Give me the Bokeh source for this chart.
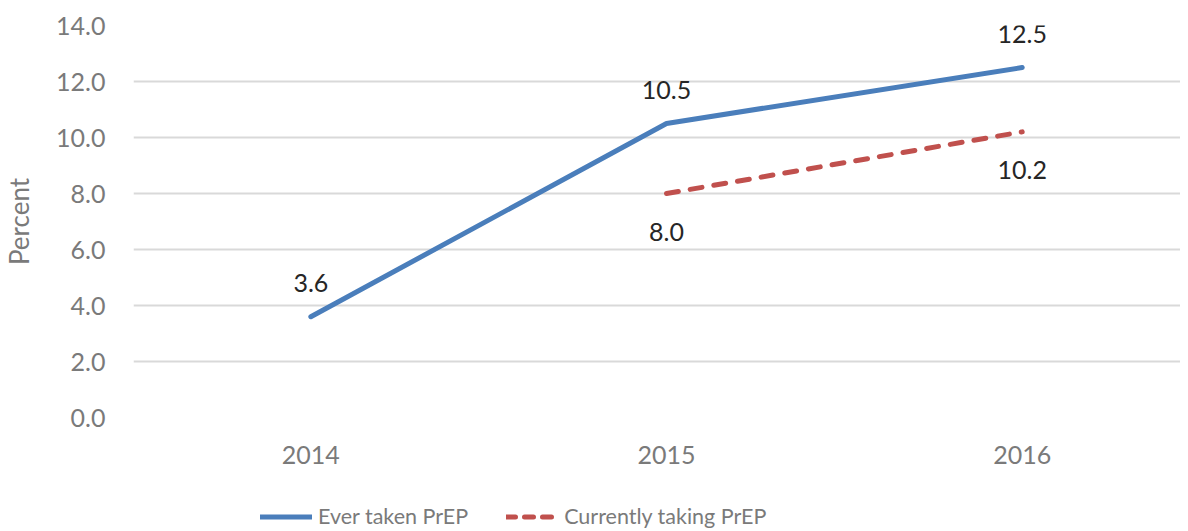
from bokeh.plotting import figure
from bokeh.layouts import column
from bokeh.models import ColumnDataSource, FixedTicker, Legend, LegendItem, Range1d, NumeralTickFormatter
from bokeh.core.properties import value
from bokeh.embed import file_html
from bokeh.resources import INLINE

# ---- data ----
years = ["2014", "2015", "2016"]
ever_taken = [3.6, 10.5, 12.5]
current_years = ["2015", "2016"]
currently_taking = [8.0, 10.2]
y_ticks = [0, 2, 4, 6, 8, 10, 12, 14]
series_names = ["Ever taken PrEP", "Currently taking PrEP"]

FONT = "Lato"
GREY = "#7a7a7a"
BLUE = "#4a7ebb"
RED = "#c0504d"
RED_DASH = "12 12"

ever_src = ColumnDataSource(dict(
    x=[years.index(y) for y in years],
    y=ever_taken,
    label=["%.1f" % v for v in ever_taken],
))
cur_src = ColumnDataSource(dict(
    x=[years.index(y) for y in current_years],
    y=currently_taking,
    label=["%.1f" % v for v in currently_taking],
))

p = figure(width=1180, height=476, output_backend="svg", toolbar_location=None,
           x_range=Range1d(-0.4986, 2.4451), y_range=Range1d(0, 14),
           min_border_left=126, min_border_right=0, min_border_top=25, min_border_bottom=59)
p.outline_line_color = None
p.background_fill_color = "white"
p.border_fill_color = "white"

# axes
p.xaxis.ticker = FixedTicker(ticks=list(range(len(years))))
p.xaxis.major_label_overrides = {i: y for i, y in enumerate(years)}
p.yaxis.ticker = FixedTicker(ticks=y_ticks)
p.yaxis.formatter = NumeralTickFormatter(format="0.0")
for ax in (p.xaxis[0], p.yaxis[0]):
    ax.axis_line_color = None
    ax.major_tick_line_color = None
    ax.minor_tick_line_color = None
    ax.major_tick_in = 0
    ax.major_tick_out = 0
    ax.major_label_text_font = FONT
    ax.major_label_text_font_size = "25px"
    ax.major_label_text_color = GREY
    ax.major_label_standoff = 28
p.yaxis.axis_label = "Percent"
p.yaxis.axis_label_text_font = FONT
p.yaxis.axis_label_text_font_size = "26px"
p.yaxis.axis_label_text_font_style = "normal"
p.yaxis.axis_label_text_color = GREY
p.yaxis.axis_label_standoff = 18

p.xgrid.grid_line_color = None
p.ygrid.grid_line_color = "#d9d9d9"
p.ygrid.grid_line_width = 2
p.ygrid.ticker = FixedTicker(ticks=y_ticks)

p.line("x", "y", source=ever_src, line_color=BLUE, line_width=5, line_cap="round", line_join="round")
p.line("x", "y", source=cur_src, line_color=RED, line_width=5, line_cap="round", line_dash=RED_DASH)

p.text("x", "y", text="label", source=ever_src, text_font=value(FONT), text_font_size="25px",
       text_color="#262626", text_align="center", text_baseline="middle", y_offset=-34)
p.text("x", "y", text="label", source=cur_src, text_font=value(FONT), text_font_size="25px",
       text_color="#262626", text_align="center", text_baseline="middle", y_offset=38)

# ---- legend strip below the chart (series drawn off-screen, only legend visible) ----
pl = figure(width=1180, height=55, output_backend="svg", toolbar_location=None,
            x_range=Range1d(0, 1), y_range=Range1d(100, 101), x_axis_type=None, y_axis_type=None,
            min_border=0)
pl.outline_line_color = None
pl.grid.visible = False
l1 = pl.line("x", "y", source=ever_src, line_color=BLUE, line_width=5, line_cap="round")
l2 = pl.line("x", "y", source=cur_src, line_color=RED, line_width=5, line_cap="round", line_dash="9 9")
legend = Legend(items=[LegendItem(label=series_names[0], renderers=[l1]),
                       LegendItem(label=series_names[1], renderers=[l2])],
                orientation="horizontal", location=(127, 2),
                label_text_font=FONT, label_text_font_size="21.5px", label_text_color=GREY,
                glyph_width=52, glyph_height=25, label_height=25, label_standoff=6,
                spacing=38, padding=0, margin=0,
                border_line_color=None, background_fill_alpha=0)
pl.add_layout(legend, "center")

layout = column(p, pl, spacing=0)
open("out.html", "w").write(file_html(layout, INLINE))
